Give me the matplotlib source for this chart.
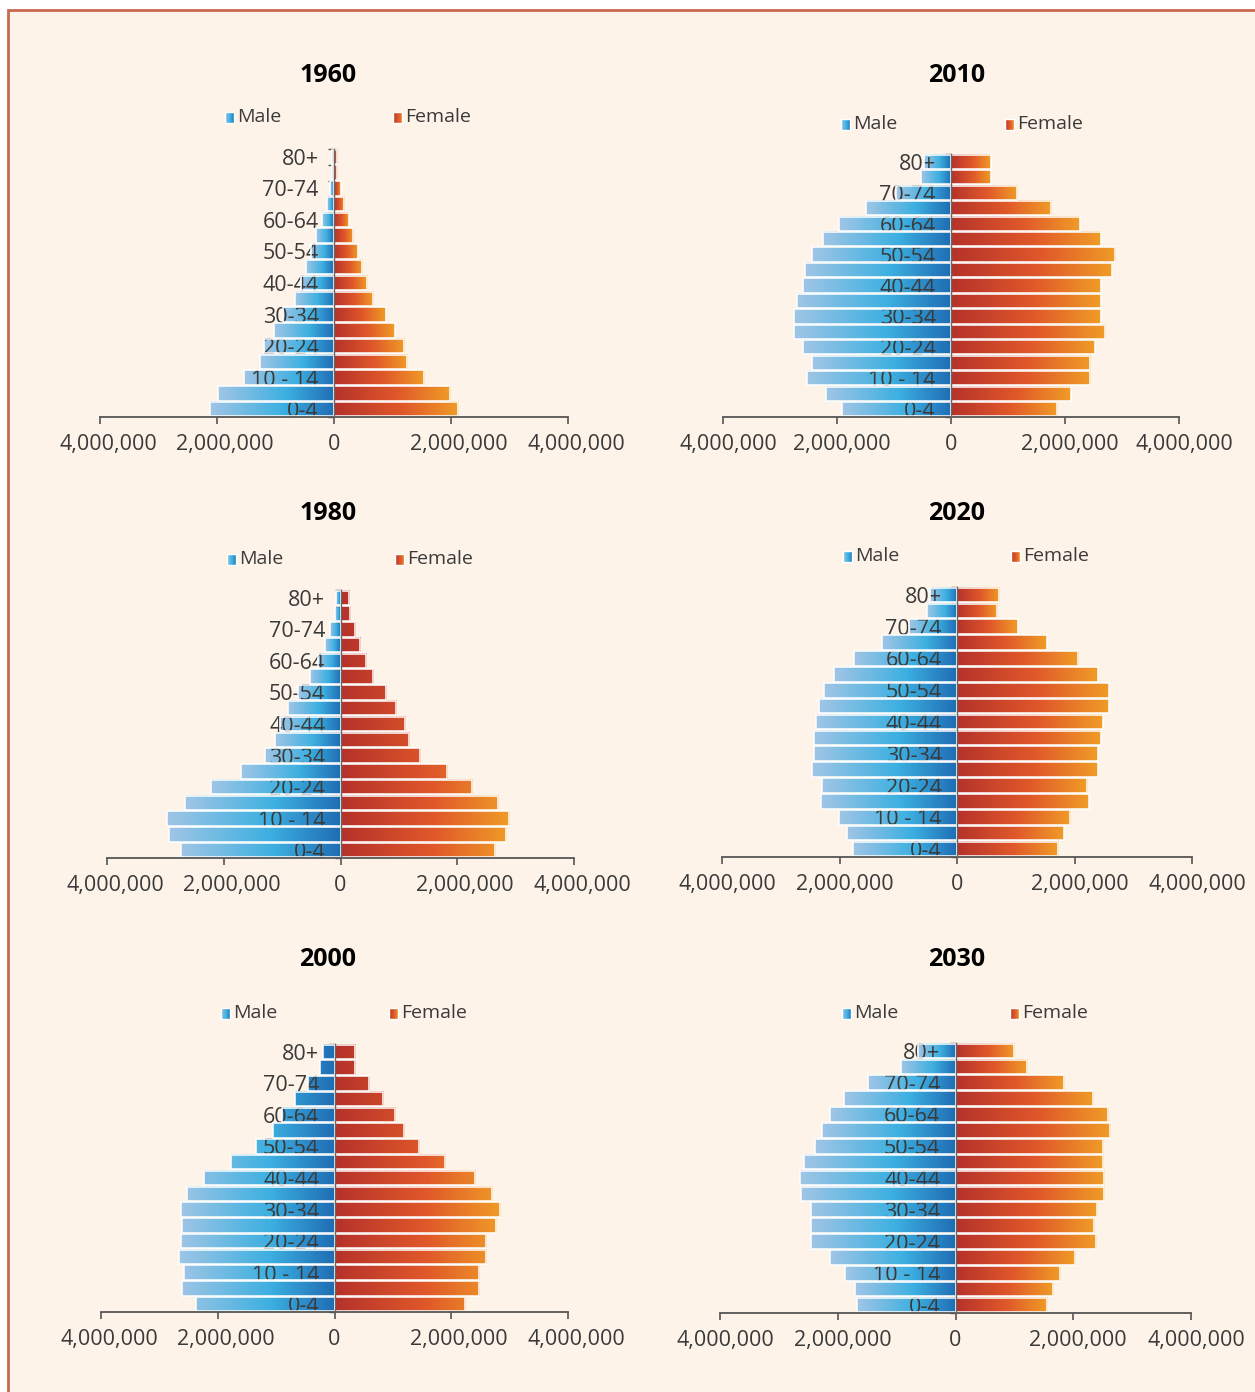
import numpy as np
import matplotlib
matplotlib.use('Agg')
import matplotlib.pyplot as plt
from matplotlib.colors import LinearSegmentedColormap
from matplotlib.patches import Rectangle
from matplotlib.ticker import FuncFormatter
from matplotlib.transforms import ScaledTranslation

plt.rcParams['font.family'] = ['Open Sans', 'DejaVu Sans']

# age groups, bottom to top
ages = ['0-4', '5-9', '10-14', '15-19', '20-24', '25-29', '30-34', '35-39', '40-44',
        '45-49', '50-54', '55-59', '60-64', '65-69', '70-74', '75-79', '80+']
age_labels = ['0-4', '10 - 14', '20-24', '30-34', '40-44', '50-54', '60-64', '70-74', '80+']

# population values, 0-4 first
male_1960 = [2120000, 1990000, 1540000, 1260000, 1200000, 1020000, 865000, 674000, 559000,
             472000, 386000, 305000, 202000, 115000, 69000, 40000, 30000]
female_1960 = [2120000, 1990000, 1540000, 1250000, 1200000, 1040000, 882000, 669000, 565000,
               484000, 409000, 329000, 248000, 173000, 115000, 58000, 58000]

male_1980 = [2730000, 2940000, 2970000, 2660000, 2210000, 1710000, 1290000, 1130000, 1030000,
             903000, 726000, 514000, 383000, 274000, 177000, 97000, 74000]
female_1980 = [2650000, 2840000, 2890000, 2700000, 2260000, 1820000, 1370000, 1180000, 1110000,
               954000, 771000, 560000, 429000, 326000, 246000, 166000, 143000]

male_2000 = [2370000, 2610000, 2580000, 2660000, 2630000, 2610000, 2630000, 2530000, 2240000,
             1770000, 1350000, 1060000, 905000, 670000, 458000, 252000, 200000]
female_2000 = [2240000, 2470000, 2470000, 2600000, 2600000, 2760000, 2840000, 2690000, 2400000,
               1900000, 1450000, 1190000, 1030000, 825000, 590000, 350000, 350000]

male_2010 = [1920000, 2190000, 2520000, 2440000, 2590000, 2760000, 2760000, 2710000, 2590000,
             2560000, 2440000, 2250000, 1960000, 1490000, 960000, 535000, 470000]
female_2010 = [1860000, 2100000, 2440000, 2440000, 2520000, 2710000, 2630000, 2630000, 2630000,
               2820000, 2880000, 2630000, 2260000, 1760000, 1160000, 700000, 700000]

male_2020 = [1770000, 1880000, 2010000, 2320000, 2300000, 2460000, 2430000, 2430000, 2400000,
             2350000, 2270000, 2090000, 1750000, 1280000, 815000, 519000, 462000]
female_2020 = [1720000, 1820000, 1930000, 2240000, 2220000, 2400000, 2400000, 2450000, 2480000,
               2580000, 2580000, 2400000, 2060000, 1530000, 1030000, 689000, 718000]

male_2030 = [1670000, 1700000, 1870000, 2140000, 2450000, 2450000, 2460000, 2620000, 2640000,
             2580000, 2380000, 2270000, 2130000, 1900000, 1490000, 925000, 643000]
female_2030 = [1560000, 1650000, 1780000, 2030000, 2390000, 2350000, 2400000, 2520000, 2530000,
               2510000, 2510000, 2630000, 2590000, 2340000, 1850000, 1210000, 986000]

# (title, male, female, gradient per bar for male / female)
panels = [
    ('1960', male_1960, female_1960, True, True),
    ('1980', male_1980, female_1980, True, False),
    ('2000', male_2000, female_2000, False, False),
    ('2010', male_2010, female_2010, True, True),
    ('2020', male_2020, female_2020, True, True),
    ('2030', male_2030, female_2030, True, True),
]

# layout in pixels: axes left, right, top, bottom; title y; legend male x, female x, legend y
layout = [
    (100, 568, 149, 417, 75, 229, 397, 117),
    (107, 574, 590, 858, 513, 231, 399, 559),
    (101, 568, 1044, 1312, 960, 225, 393, 1013),
    (723, 1179, 154, 417, 75, 845, 1009, 124),
    (722, 1192, 587, 857, 513, 847, 1015, 556),
    (720, 1191, 1043, 1313, 960, 846, 1014, 1013),
]

W, H = 1255, 1392
BG = '#fef3e8'
TXT = '#3a3a3a'
male_cmap = LinearSegmentedColormap.from_list('m', [(0, '#1f6db4'), (0.42, '#3db0e1'), (1, '#a0c5e6')])
female_cmap = LinearSegmentedColormap.from_list('f', [(0, '#b5322a'), (0.55, '#e0582a'), (1, '#f09c27')])

fig = plt.figure(figsize=(W / 100, H / 100), dpi=100)
fig.patch.set_facecolor('white')
fig.patches.append(Rectangle((8 / W, -0.05), 1.1, 1 - 10 / H + 0.05, transform=fig.transFigure,
                             facecolor=BG, edgecolor='#c9694f', linewidth=2, zorder=-10))


def fx(px):
    return px / W


def fy(py):
    return 1 - py / H


def grad_bar(ax, y, v, cmap, side, vmax, per_bar, h=0.92):
    t = np.linspace(0, 1 if per_bar else v / vmax, 256)
    cols = cmap(t)
    if side < 0:
        cols = cols[::-1]
        ext = [-v, 0, y - h / 2, y + h / 2]
    else:
        ext = [0, v, y - h / 2, y + h / 2]
    ax.imshow(cols[None, :, :], extent=ext, aspect='auto', interpolation='bilinear', zorder=1)
    ax.add_patch(Rectangle((ext[0], ext[2]), ext[1] - ext[0], h, fill=False,
                           edgecolor='white', linewidth=1.1, zorder=2))


def legend_square(px, py, cmap, flip):
    lax = fig.add_axes([fx(px - 4), fy(py + 6), 9 / W, 11 / H])
    g = cmap(np.linspace(0.1, 0.9, 32))
    if flip:
        g = g[::-1]
    lax.imshow(g[None, :, :], aspect='auto')
    lax.set_xticks([])
    lax.set_yticks([])
    for s in lax.spines.values():
        s.set_edgecolor('white')
        s.set_linewidth(1)


for (title, male, female, m_per, f_per), (l, r, t, b, ty, lmx, lfx, ly) in zip(panels, layout):
    ax = fig.add_axes([fx(l), fy(b), (r - l) / W, (b - t) / H])
    ax.set_facecolor('none')
    ypos = np.arange(len(ages))
    mmax = max(male)
    fmax = max(female)
    for y, mv, fv in zip(ypos, male, female):
        grad_bar(ax, y, mv, male_cmap, -1, mmax, m_per)
        grad_bar(ax, y, fv, female_cmap, 1, fmax, f_per)

    ax.set_xlim(-4e6, 4e6)
    ax.set_ylim(-0.5, 16.5)
    ax.set_xticks([-4e6, -2e6, 0, 2e6, 4e6])
    ax.xaxis.set_major_formatter(FuncFormatter(lambda v, p: f'{abs(int(v)):,}'))
    ax.tick_params(axis='x', length=5, width=1.2, color='#555555', pad=7,
                   labelsize=15.5, labelcolor=TXT)
    # labels sit a little right of their ticks in the original
    shift = 8 if l < 600 else 5
    for i, lab in enumerate(ax.get_xticklabels()):
        if i != 2:
            lab.set_transform(lab.get_transform() + ScaledTranslation(shift / 100, 0, fig.dpi_scale_trans))

    ax.set_yticks(ypos[::2])
    ax.set_yticklabels(age_labels)
    ax.set_yticks(np.arange(-0.5, 17, 1), minor=True)
    ax.tick_params(axis='y', which='major', length=0, pad=11, labelsize=15.5, labelcolor=TXT)
    ax.tick_params(axis='y', which='minor', length=4, width=1, color='#555555')
    for lab in ax.get_yticklabels():
        lab.set_zorder(5)

    ax.spines['left'].set_position(('data', 0))
    ax.spines['left'].set_color('#666666')
    ax.spines['left'].set_linewidth(1)
    ax.spines['left'].set_zorder(4)
    ax.spines['bottom'].set_color('#555555')
    ax.spines['bottom'].set_linewidth(1.3)
    ax.spines['top'].set_visible(False)
    ax.spines['right'].set_visible(False)

    cx = 328 if l < 600 else 957
    fig.text(fx(cx), fy(ty), title, ha='center', va='center', fontsize=18,
             fontweight='bold', color='black')
    legend_square(lmx, ly, male_cmap, True)
    legend_square(lfx, ly, female_cmap, False)
    fig.text(fx(lmx + 8), fy(ly), 'Male', ha='left', va='center', fontsize=14, color=TXT)
    fig.text(fx(lfx + 8), fy(ly), 'Female', ha='left', va='center', fontsize=14, color=TXT)

fig.savefig('out.png', dpi=100, facecolor=fig.get_facecolor())
